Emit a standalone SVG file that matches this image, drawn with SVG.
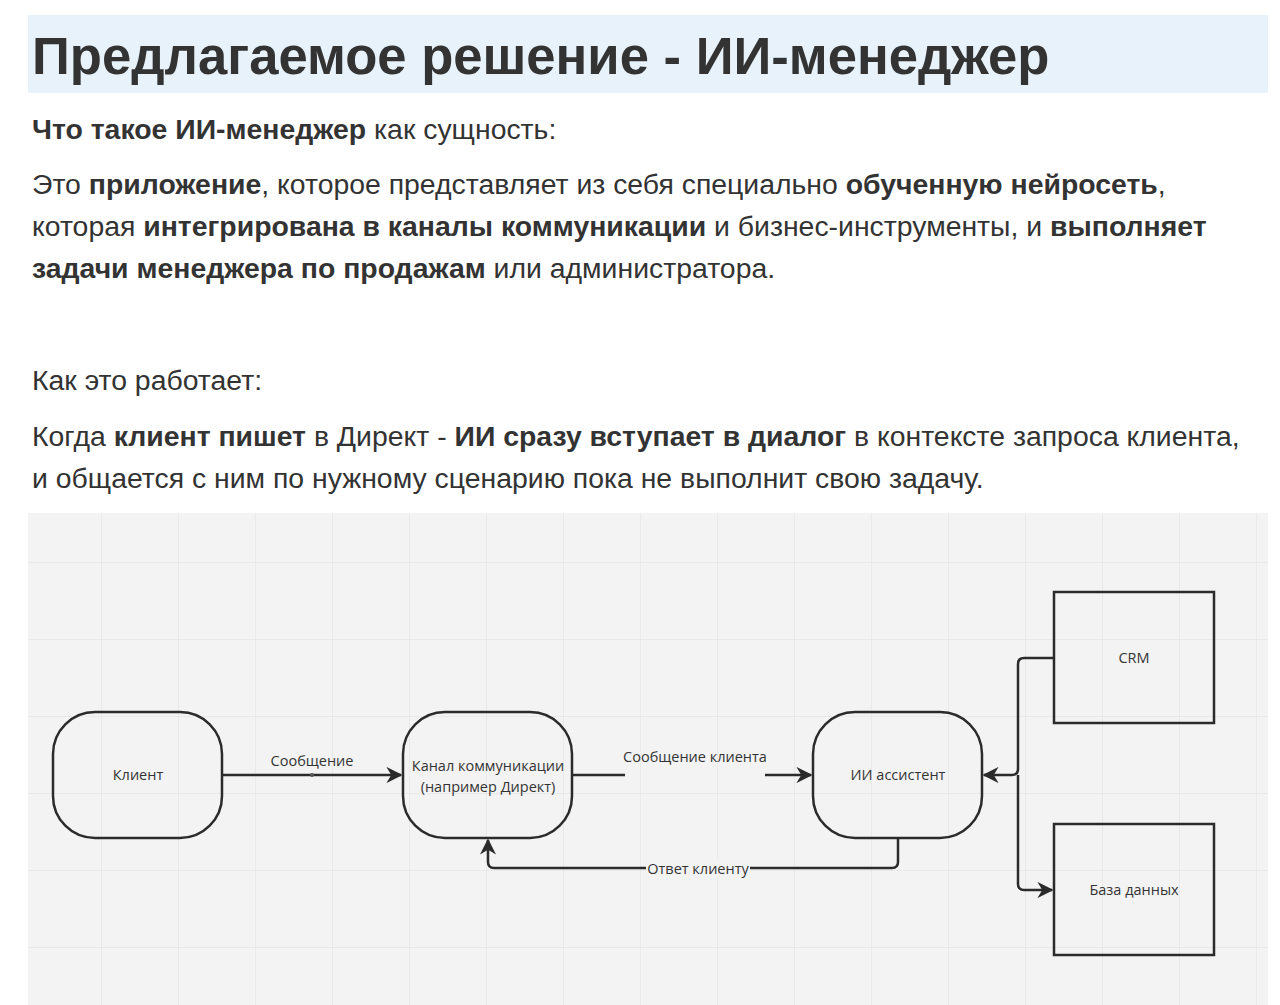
<svg xmlns="http://www.w3.org/2000/svg" width="1280" height="1005" viewBox="0 0 1280 1005">
<defs>
<style>
.t{font-family:"Liberation Sans",Arial,sans-serif;font-size:28.4px;fill:#333}
.b{font-weight:bold}
.n{fill:none;stroke:#2b2b2b;stroke-width:2.5}
.l{font-family:"Open Sans","DejaVu Sans",sans-serif;font-size:14.5px;fill:#333;text-anchor:middle}
.c{fill:none;stroke:#2b2b2b;stroke-width:2.5}
</style>
<pattern id="g" x="24" y="485" width="77" height="77" patternUnits="userSpaceOnUse">
<path d="M0 0H77M0 0V77" fill="none" stroke="#e0e0e0" stroke-width="1"/>
</pattern>
<marker id="a" viewBox="0 0 10 10" refX="9" refY="5" markerWidth="6.5" markerHeight="6.5" orient="auto-start-reverse" markerUnits="strokeWidth">
<path d="M0 0L10 5L0 10L3 5Z" fill="#2b2b2b"/>
</marker>
</defs>
<rect width="1280" height="1005" fill="#fff"/>
<rect x="28" y="15" width="1240" height="78" fill="#e8f2fb"/>
<text x="32" y="74" font-family="Liberation Sans,Arial,sans-serif" font-size="52.6" font-weight="bold" fill="#333">Предлагаемое решение - ИИ-менеджер</text>
<text class="t" x="32" y="139"><tspan class="b">Что такое ИИ-менеджер</tspan> как сущность:</text>
<text class="t" x="32" y="194">Это <tspan class="b">приложение</tspan>, которое представляет из себя специально <tspan class="b">обученную нейросеть</tspan>,</text>
<text class="t" x="32" y="236">которая <tspan class="b">интегрирована в каналы коммуникации</tspan> и бизнес-инструменты, и <tspan class="b">выполняет</tspan></text>
<text class="t" x="32" y="278"><tspan class="b">задачи менеджера по продажам</tspan> или администратора.</text>
<text class="t" x="32" y="390">Как это работает:</text>
<text class="t" x="32" y="446">Когда <tspan class="b">клиент пишет</tspan> в Директ - <tspan class="b">ИИ сразу вступает в диалог</tspan> в контексте запроса клиента,</text>
<text class="t" x="32" y="488">и общается с ним по нужному сценарию пока не выполнит свою задачу.</text>
<rect x="28" y="513" width="1240" height="492" fill="#f3f3f3"/>
<rect x="28" y="513" width="1240" height="492" fill="url(#g)"/>
<g id="connectors">
<path class="c" d="M222 775H401" marker-end="url(#a)"/>
<circle cx="312" cy="775" r="2" fill="#555"/>
<path class="c" d="M572 775H625"/>
<path class="c" d="M765 775H811" marker-end="url(#a)"/>
<path class="c" d="M898 838V862Q898 868 892 868H494Q488 868 488 862V840" marker-end="url(#a)"/>
<path class="c" d="M1054 658H1024Q1018 658 1018 664V769Q1018 775 1012 775H984" marker-end="url(#a)"/>
<path class="c" d="M1018 775V884Q1018 890 1024 890H1052" marker-end="url(#a)"/>
<rect x="646" y="858" width="104" height="20" fill="#f3f3f3"/>
<text class="l" x="312" y="766">Сообщение</text>
<text class="l" x="695" y="762">Сообщение клиента</text>
<text class="l" x="698" y="874">Ответ клиенту</text>
</g>
<g id="client"><rect class="n" x="53" y="712" width="169" height="126" rx="42"/><text class="l" x="138" y="780">Клиент</text></g>
<g id="channel"><rect class="n" x="403" y="712" width="169" height="126" rx="42"/><text class="l" x="488" y="771">Канал коммуникации</text><text class="l" x="488" y="792">(например Директ)</text></g>
<g id="ai"><rect class="n" x="813" y="712" width="169" height="126" rx="42"/><text class="l" x="898" y="780">ИИ ассистент</text></g>
<g id="crm"><rect class="n" x="1054" y="592" width="160" height="131"/><text class="l" x="1134" y="663">CRM</text></g>
<g id="db"><rect class="n" x="1054" y="824" width="160" height="131"/><text class="l" x="1134" y="895">База данных</text></g>
</svg>
